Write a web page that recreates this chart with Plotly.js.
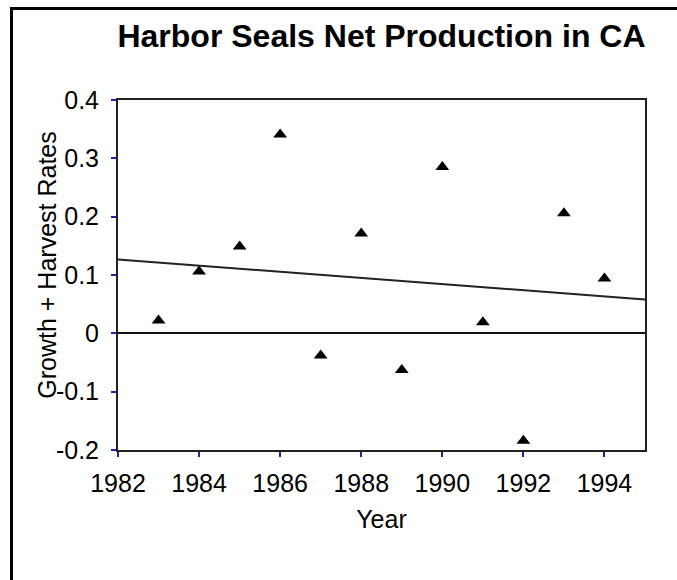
<!DOCTYPE html>
<html>
<head>
<meta charset="utf-8">
<script src="https://cdn.plot.ly/plotly-3.0.1.min.js"></script>
<style>
  html, body { margin: 0; padding: 0; background: #fff; }
  #wrap { position: relative; width: 677px; height: 580px; }
  #chart { width: 677px; height: 580px; }
  #frame { position: absolute; left: 10px; top: 7px; right: 0; bottom: 0;
           border-left: 3px solid #000; border-top: 3px solid #000; pointer-events: none; }
</style>
</head>
<body>
<div id="wrap"><div id="chart"></div><div id="frame"></div></div>
<script>
const years = [1983, 1984, 1985, 1986, 1987, 1988, 1989, 1990, 1991, 1992, 1993, 1994];
const rates = [0.022, 0.106, 0.149, 0.341, -0.038, 0.171, -0.063, 0.285, 0.019, -0.184, 0.206, 0.094];
const xRange = [1982, 1995];
const yTicks = [-0.2, -0.1, 0, 0.1, 0.2, 0.3, 0.4];
const yTickText = ['-0.2', '-0.1', '0', '0.1', '0.2', '0.3', '0.4'];

// least-squares trend line
const n = years.length;
const mx = years.reduce((a, b) => a + b, 0) / n;
const my = rates.reduce((a, b) => a + b, 0) / n;
let sxy = 0, sxx = 0;
for (let i = 0; i < n; i++) { sxy += (years[i] - mx) * (rates[i] - my); sxx += (years[i] - mx) ** 2; }
const slope = sxy / sxx;
const icpt = my - slope * mx;
const trendX = xRange.slice();
const trendY = trendX.map(x => icpt + slope * x);

const font = 'Liberation Sans, Arial, sans-serif';
const tickBlue = '#2020a8';

const data = [
  { x: trendX, y: trendY, mode: 'lines', line: { color: '#222', width: 2 }, hoverinfo: 'skip', showlegend: false },
  { x: years, y: rates, mode: 'markers', marker: { symbol: 'triangle-up', size: 12, color: '#000' }, showlegend: false }
];

const layout = {
  width: 677, height: 580,
  margin: { l: 118, r: 32, t: 100, b: 130 },
  paper_bgcolor: '#fff', plot_bgcolor: '#fff',
  font: { family: font, color: '#000', size: 25 },
  title: { text: 'Harbor Seals Net Production in CA', font: { family: font, size: 32, weight: 'bold', color: '#000' },
           x: 0.5, xref: 'paper', xanchor: 'center', y: 0.938, yref: 'container', yanchor: 'middle' },
  xaxis: {
    range: xRange, tick0: 1982, dtick: 2, ticks: 'outside', ticklen: 5, tickwidth: 2, tickcolor: tickBlue,
    showline: true, linecolor: '#222', linewidth: 2, mirror: true, showgrid: false, zeroline: false,
    tickfont: { size: 25 }, ticklabelstandoff: 5,
    title: { text: 'Year', font: { size: 25 }, standoff: 14 }
  },
  yaxis: {
    range: [-0.2, 0.4], tickvals: yTicks, ticktext: yTickText, ticks: 'outside', ticklen: 5, tickwidth: 2, tickcolor: tickBlue,
    showline: true, linecolor: '#222', linewidth: 2, mirror: true, showgrid: false,
    zeroline: true, zerolinecolor: '#111', zerolinewidth: 2,
    tickfont: { size: 25 }, ticklabelstandoff: 7
  },
  annotations: [
    { text: 'Growth + Harvest Rates', textangle: -90, xref: 'paper', yref: 'paper',
      x: -0.135, y: 0.529, xanchor: 'center', yanchor: 'middle', showarrow: false, font: { size: 25 } }
  ]
};

Plotly.newPlot('chart', data, layout, { staticPlot: true, displayModeBar: false });
</script>
</body>
</html>
